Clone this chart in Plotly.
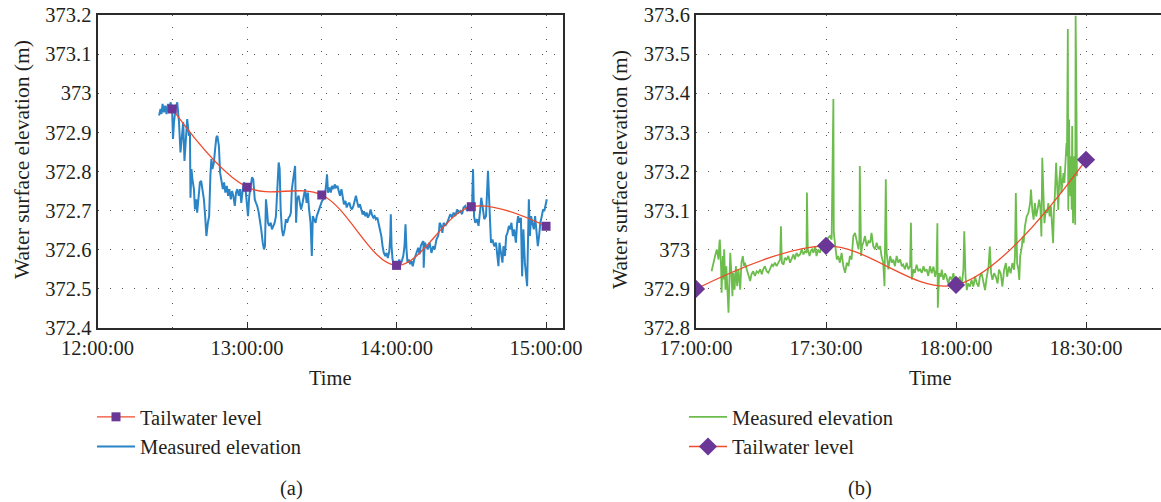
import pandas as pd
import plotly.graph_objects as go

# ---------------- data ----------------
# Panel (a): minutes after 12:00
left_meas_t = [24.7,25.3,25.7,26.1,26.7,27.2,27.7,28.3,28.8,29.3,29.9,30.3,30.7,31.3,32.0,32.7,33.3,34.0,34.4,34.9,
35.5,36.0,36.7,37.1,37.3,37.7,38.1,38.7,39.1,39.6,40.0,40.5,41.1,41.6,42.1,42.7,43.2,43.7,44.3,44.8,
45.3,45.7,46.1,46.7,47.2,47.7,48.1,48.7,49.2,49.7,50.3,50.8,51.3,51.9,52.4,52.9,53.5,54.0,54.5,55.1,
55.6,56.1,56.7,57.2,57.7,58.3,58.8,59.3,59.9,60.4,60.9,61.5,62.0,62.5,63.1,63.6,64.1,64.7,65.2,65.7,
66.3,66.8,67.2,67.6,68.0,68.4,68.9,69.5,70.0,70.5,71.1,71.6,72.1,72.7,73.1,73.5,74.0,74.5,75.1,75.6,
76.1,76.7,77.2,77.6,78.0,78.5,78.9,79.3,79.7,80.1,80.7,81.2,81.7,82.3,82.8,83.3,83.9,84.4,84.9,85.5,
86.0,86.4,86.9,87.5,88.0,88.5,89.1,89.6,90.1,90.7,91.2,91.7,92.1,92.5,93.1,93.6,94.1,94.7,95.2,95.7,
96.3,96.8,97.3,97.9,98.4,98.9,99.5,100.0,100.5,101.1,101.6,102.1,102.7,103.2,103.7,104.3,104.8,105.3,105.9,106.4,
106.9,107.5,108.0,108.5,109.1,109.6,110.1,110.7,111.2,111.7,112.3,112.8,113.3,113.9,114.4,114.9,115.5,116.0,116.5,117.1,
117.5,117.7,118.0,118.4,118.9,119.5,120.0,120.5,121.1,121.6,122.1,122.7,123.2,123.6,124.0,124.4,124.9,125.5,126.0,126.5,
127.1,127.6,128.1,128.7,129.2,129.7,130.3,130.8,130.9,131.3,132.0,132.5,133.3,134.0,134.7,135.3,136.0,136.7,137.1,137.3,
137.9,138.4,138.9,139.6,140.3,140.9,141.6,142.3,142.9,143.6,144.3,144.9,145.6,146.3,146.9,147.6,148.3,148.9,149.6,150.3,
150.7,151.1,151.6,152.3,152.9,153.6,154.0,154.7,155.2,155.9,156.7,157.1,157.5,157.9,158.5,159.2,159.9,160.5,160.9,161.3,
161.9,162.5,162.9,163.5,164.0,164.5,165.1,165.6,166.1,166.7,167.2,167.9,168.4,168.8,169.3,169.9,170.4,170.9,171.5,172.0,
172.4,172.8,173.1,173.5,174.0,174.5,175.1,175.6,176.1,176.7,177.2,177.7,178.3,178.8,179.3,179.9,180.3]
left_meas_v = [372.943,372.960,372.947,372.973,372.951,372.968,372.947,372.973,372.951,372.977,372.964,372.883,372.926,372.960,372.977,372.926,372.849,372.909,372.926,372.827,
372.883,372.934,372.891,372.900,372.733,372.806,372.780,372.755,372.703,372.729,372.695,372.738,372.772,372.776,372.755,372.729,372.686,372.635,372.669,372.686,
372.789,372.832,372.806,372.823,372.857,372.887,372.891,372.866,372.797,372.780,372.755,372.772,372.746,372.763,372.738,372.755,372.729,372.750,372.738,372.712,
372.746,372.755,372.738,372.755,372.720,372.755,372.772,372.763,372.720,372.686,372.738,372.772,372.785,372.780,372.729,372.720,372.712,372.695,372.678,372.652,
372.618,372.601,372.609,372.729,372.703,372.669,372.661,372.669,372.652,372.661,372.669,372.686,372.755,372.823,372.806,372.703,372.652,372.635,372.652,372.678,
372.669,372.682,372.686,372.695,372.755,372.789,372.797,372.814,372.669,372.729,372.738,372.720,372.703,372.720,372.738,372.755,372.720,372.746,372.703,372.669,
372.584,372.686,372.678,372.669,372.686,372.695,372.703,372.712,372.725,372.729,372.738,372.763,372.793,372.746,372.759,372.746,372.763,372.755,372.767,372.759,
372.763,372.750,372.738,372.755,372.729,372.716,372.725,372.708,372.716,372.720,372.708,372.703,372.712,372.729,372.738,372.720,372.708,372.716,372.698,372.690,
372.698,372.686,372.695,372.682,372.690,372.703,372.690,372.682,372.686,372.678,372.682,372.669,372.652,372.635,372.609,372.592,372.584,372.592,372.579,372.596,
372.635,372.691,372.609,372.575,372.567,372.558,372.571,372.563,372.575,372.563,372.571,372.584,372.609,372.665,372.601,372.567,372.575,372.563,372.571,372.558,
372.575,372.584,372.596,372.605,372.588,372.609,372.618,372.622,372.554,372.618,372.609,372.601,372.618,372.592,372.609,372.601,372.626,372.635,372.652,372.669,
372.661,372.643,372.669,372.661,372.669,372.678,372.691,372.682,372.695,372.686,372.703,372.695,372.699,372.691,372.708,372.712,372.699,372.716,372.703,372.708,
372.806,372.686,372.669,372.678,372.661,372.703,372.733,372.703,372.678,372.686,372.802,372.738,372.669,372.618,372.626,372.609,372.618,372.584,372.558,372.618,
372.592,372.567,372.609,372.584,372.635,372.643,372.661,372.652,372.669,372.635,372.652,372.618,372.669,372.686,372.669,372.682,372.532,372.652,372.567,372.524,
372.507,372.635,372.729,372.635,372.686,372.669,372.652,372.686,372.643,372.609,372.635,372.669,372.686,372.703,372.699,372.720,372.729]

left_tail_t = [30, 60, 90, 120, 150, 180]
left_tail_v = [372.96, 372.76, 372.74, 372.56, 372.71, 372.66]

# Panel (b): minutes after 17:00
right_meas_t = [3.6,4.0,4.4,4.8,5.2,5.4,5.5,5.8,5.9,6.2,6.3,6.5,6.8,7.0,7.2,7.5,7.7,7.9,8.2,8.4,
8.6,8.9,9.2,9.5,9.8,10.2,10.5,10.8,11.1,11.3,11.7,12.1,12.5,12.8,13.2,13.6,14.0,14.4,14.8,15.2,
15.5,15.9,16.3,16.7,17.1,17.5,17.8,18.2,18.6,19.0,19.4,19.6,19.8,20.2,20.5,20.9,21.3,21.7,22.1,22.5,
22.8,23.2,23.6,24.0,24.4,24.8,25.2,25.5,25.6,25.8,26.2,26.5,26.8,27.1,27.5,27.8,28.2,28.6,29.0,29.4,
29.8,30.2,30.5,30.9,31.3,31.5,31.7,31.8,32.1,32.5,32.8,33.2,33.6,34.0,34.4,34.8,35.2,35.5,35.9,36.3,
36.7,37.1,37.5,37.7,37.8,38.1,38.3,38.6,39.0,39.4,39.8,40.2,40.5,40.9,41.3,41.7,42.1,42.5,42.8,43.2,
43.5,43.8,44.0,44.4,44.8,45.2,45.5,45.9,46.3,46.7,47.1,47.5,47.8,48.2,48.6,49.0,49.4,49.6,49.8,50.2,
50.5,50.9,51.3,51.7,52.1,52.5,52.8,53.2,53.6,54.0,54.4,54.8,55.2,55.5,55.7,55.8,56.1,56.5,56.7,57.1,
57.5,57.8,58.2,58.6,59.0,59.4,59.8,60.2,60.5,60.9,61.3,61.7,61.9,62.2,62.5,62.8,63.2,63.6,64.0,64.4,
64.8,65.2,65.5,65.9,66.3,66.7,67.1,67.5,67.8,68.1,68.4,68.8,69.2,69.6,69.9,70.3,70.7,71.1,71.5,71.8,
72.2,72.6,73.0,73.4,73.6,73.8,74.1,74.4,74.6,74.8,75.2,75.4,75.6,75.9,76.3,76.7,77.1,77.3,77.6,77.9,
78.2,78.5,78.8,79.2,79.5,79.7,79.9,80.2,80.4,80.7,81.0,81.3,81.6,81.9,82.2,82.4,82.6,82.8,83.1,83.3,
83.6,83.8,84.1,84.3,84.5,84.8,85.0,85.2,85.5,85.6,85.8,85.9,86.1,86.2,86.4,86.5,86.7,86.8,87.0,87.2,
87.3,87.5,87.6,87.8,87.9]
right_meas_v = [372.945,372.967,372.984,373.001,372.975,373.018,373.026,372.950,372.890,372.984,372.924,373.001,372.898,372.958,372.890,372.839,372.916,372.992,372.933,372.881,
372.941,372.898,372.958,372.907,372.950,372.898,372.967,372.984,372.958,372.967,372.950,372.933,372.920,372.937,372.945,372.933,372.945,372.941,372.950,372.937,
372.950,372.958,372.945,372.941,372.954,372.962,372.958,372.967,372.958,372.967,372.975,373.060,372.967,372.962,372.979,372.975,372.984,372.967,372.979,372.988,
372.975,372.992,372.984,372.988,373.001,372.988,372.997,372.992,373.146,373.001,372.984,372.997,373.001,372.992,373.009,372.984,373.001,372.992,373.009,373.005,
373.018,373.018,373.031,373.035,373.026,373.240,373.385,373.043,373.009,372.975,372.984,372.967,372.992,372.958,372.941,372.967,372.958,372.984,372.975,373.035,
373.043,373.018,373.001,373.026,373.214,372.984,373.009,373.018,373.035,373.009,373.022,373.018,373.043,373.009,373.001,373.018,373.001,373.009,372.984,372.967,
372.907,373.180,372.992,372.950,372.984,372.967,372.975,372.958,372.984,372.967,372.975,372.958,372.962,372.950,372.967,372.950,372.958,373.069,372.924,372.950,
372.941,372.962,372.945,372.950,372.941,372.958,372.945,372.950,372.933,372.958,372.940,372.957,372.931,372.949,373.068,372.852,372.940,372.931,372.949,372.923,
372.940,372.931,372.914,372.931,372.923,372.940,372.914,372.906,372.923,372.931,372.906,372.949,373.047,372.931,372.897,372.914,372.906,372.923,372.906,372.931,
372.914,372.906,372.931,372.940,372.914,372.897,372.931,372.957,373.008,372.940,372.923,372.940,372.931,372.914,372.949,372.940,372.906,372.949,372.966,372.931,
372.957,372.940,372.966,372.949,372.983,373.145,372.966,372.949,372.923,372.983,373.008,373.034,373.017,373.060,373.085,373.094,373.119,373.154,373.102,373.077,
373.119,373.085,373.102,373.128,373.102,373.034,373.235,373.085,373.068,373.102,373.094,373.119,373.085,373.111,373.060,373.017,373.102,373.137,373.222,373.154,
373.102,373.171,373.214,373.145,373.171,373.196,373.171,373.231,373.273,373.239,373.564,373.102,373.333,373.205,373.137,373.239,373.102,373.316,373.068,373.188,
373.239,373.064,373.598,373.359,373.188]

right_tail_t = [0, 30, 60, 90]
right_tail_v = [372.90, 373.01, 372.91, 373.23]

left_yticks = [372.4, 372.5, 372.6, 372.7, 372.8, 372.9, 373.0, 373.1, 373.2]
left_yticktext = ["372.4", "372.5", "372.6", "372.7", "372.8", "372.9", "373", "373.1", "373.2"]
right_yticks = [372.8, 372.9, 373.0, 373.1, 373.2, 373.3, 373.4, 373.5, 373.6]
right_yticktext = ["372.8", "372.9", "373", "373.1", "373.2", "373.3", "373.4", "373.5", "373.6"]

# ---------------- build ----------------
base_a = pd.Timestamp("2020-01-01 12:00:00")
base_b = pd.Timestamp("2020-01-01 17:00:00")
to_ts = lambda base, mins: [base + pd.Timedelta(minutes=m) for m in mins]

FONT = "Liberation Serif"
FS = 20.5
TXT = "#231f20"
BLUE = "#2a84c6"
GREEN = "#6cbd4c"
RED = "#ef4b2c"
PURPLE = "#6a3796"

fig = go.Figure()

fig.add_trace(go.Scatter(x=to_ts(base_a, left_meas_t), y=left_meas_v, mode="lines",
                         line=dict(color=BLUE, width=2.0), name="Measured elevation",
                         xaxis="x", yaxis="y", legend="legend", legendrank=2))
fig.add_trace(go.Scatter(x=to_ts(base_a, left_tail_t), y=left_tail_v, mode="lines+markers",
                         line=dict(color=RED, width=1.3, shape="spline", smoothing=1.0),
                         marker=dict(symbol="square", size=9, color=PURPLE),
                         name="Tailwater level", xaxis="x", yaxis="y", legend="legend", legendrank=1))

fig.add_trace(go.Scatter(x=to_ts(base_b, right_meas_t), y=right_meas_v, mode="lines",
                         line=dict(color=GREEN, width=1.8), name="Measured elevation",
                         xaxis="x2", yaxis="y2", legend="legend2", legendrank=1))
fig.add_trace(go.Scatter(x=to_ts(base_b, right_tail_t), y=right_tail_v, mode="lines+markers",
                         line=dict(color=RED, width=1.3, shape="spline", smoothing=1.0),
                         marker=dict(symbol="diamond", size=14, color=PURPLE),
                         name="Tailwater level", xaxis="x2", yaxis="y2", legend="legend2", legendrank=2))

W, H = 1161, 502
yd = [1 - 328 / H, 1 - 15 / H]
grid = dict(showgrid=True, gridcolor="#555555", gridwidth=1, griddash="1px,11px")
tickfont = dict(family=FONT, size=FS, color=TXT)

common_x = dict(showline=True, linecolor="#2b2b2b", linewidth=2, mirror=True,
                ticks="inside", ticklen=6, tickcolor="#2b2b2b", tickformat="%H:%M:%S",
                tickfont=tickfont, zeroline=False, automargin=False, **grid)
common_y = dict(showline=True, linecolor="#2b2b2b", linewidth=2, ticks="",
                tickfont=tickfont, zeroline=False, automargin=False, **grid)

fig.update_layout(
    width=W, height=H, margin=dict(l=0, r=0, t=0, b=0, autoexpand=False),
    paper_bgcolor="white", plot_bgcolor="white",
    font=dict(family=FONT, size=FS, color=TXT),
    xaxis=dict(domain=[97.5 / W, 563 / W], anchor="y",
               range=[base_a, base_a + pd.Timedelta(minutes=186.8)],
               tickvals=to_ts(base_a, [0, 60, 120, 180]),
               minor=dict(tickvals=to_ts(base_a, [30, 90, 150]), showgrid=True,
                          gridcolor="#555555", gridwidth=1, griddash="1px,11px", ticks=""),
               **common_x),
    yaxis=dict(domain=yd, anchor="x", range=[372.4, 373.2], tickvals=left_yticks,
               ticktext=left_yticktext, mirror=True, **common_y),
    xaxis2=dict(domain=[696 / W, 1.0], anchor="y2",
                range=[base_b, base_b + pd.Timedelta(minutes=107.3)],
                tickvals=to_ts(base_b, [0, 30, 60, 90]),
                **common_x),
    yaxis2=dict(domain=yd, anchor="x2", range=[372.8, 373.6], tickvals=right_yticks,
                ticktext=right_yticktext, mirror=False, **common_y),
    legend=dict(x=92 / W, y=1 - 397 / H, xanchor="left", yanchor="top",
                font=dict(family=FONT, size=FS, color=TXT), bgcolor="rgba(0,0,0,0)",
                traceorder="normal", tracegroupgap=0, itemwidth=38),
    legend2=dict(x=684 / W, y=1 - 397 / H, xanchor="left", yanchor="top",
                 font=dict(family=FONT, size=FS, color=TXT), bgcolor="rgba(0,0,0,0)",
                 traceorder="normal", tracegroupgap=0, itemwidth=38),
    showlegend=True,
)

ann = [
    dict(text="Water surface elevation (m)", x=22 / W, y=1 - 160 / H, textangle=-90, size=21.5),
    dict(text="Water surface elevation (m)", x=620 / W, y=1 - 170 / H, textangle=-90, size=21.5),
    dict(text="Time", x=330 / W, y=1 - 378 / H, size=FS),
    dict(text="Time", x=930 / W, y=1 - 378 / H, size=FS),
    dict(text="(a)", x=291 / W, y=1 - 488 / H, size=FS),
    dict(text="(b)", x=860 / W, y=1 - 488 / H, size=FS),
]
for a in ann:
    s = a.pop("size")
    fig.add_annotation(xref="paper", yref="paper", showarrow=False, xanchor="center",
                       yanchor="middle", font=dict(family=FONT, size=s, color=TXT), **a)

fig.write_html("out.html")
